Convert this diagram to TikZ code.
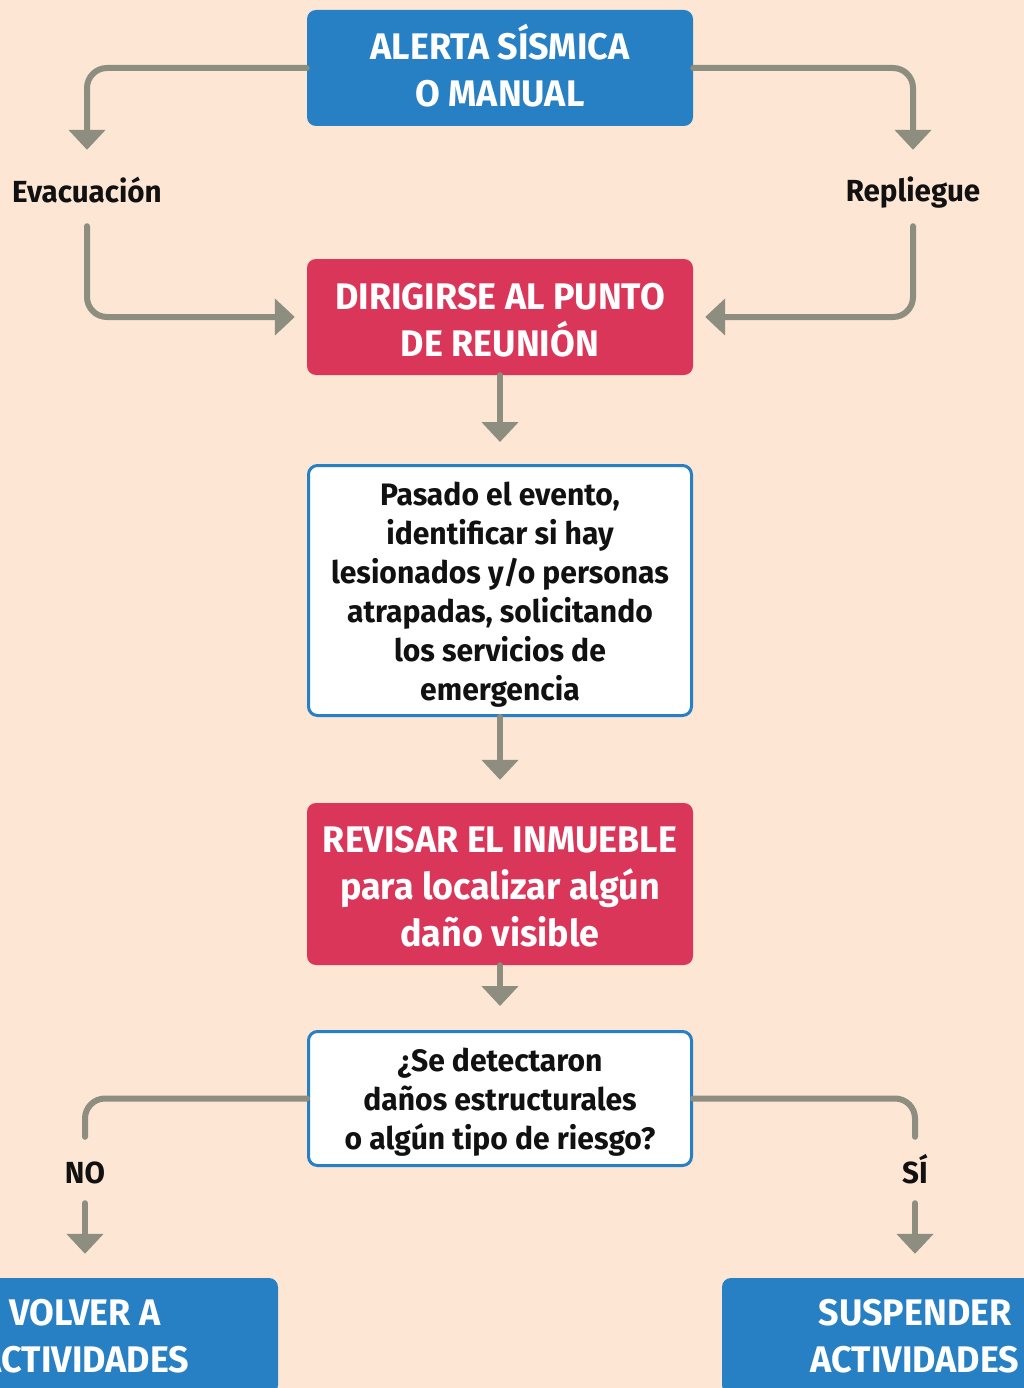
\documentclass[tikz,border=0pt]{standalone}
\usepackage{fontspec}
\usetikzlibrary{arrows.meta}
\newfontfamily\ffsans{Fira Sans}[FakeStretch=0.97]
\definecolor{bgpeach}{HTML}{FDE6D4}
\definecolor{boxblue}{HTML}{2780C3}
\definecolor{boxred}{HTML}{DA365A}
\definecolor{conngray}{HTML}{8D8D80}
\definecolor{txtblack}{HTML}{111111}
% strut that raises the top of a first line by #1 above the letter 'l'
\newcommand{\topextra}[1]{\rule{0pt}{\dimexpr\fontcharht\font`\l+#1\relax}}
\newcommand{\botextra}[1]{\rule[-#1]{0pt}{0pt}}
\tikzset{
  basebox/.style={rounded corners=9pt, minimum width=386pt, align=center, inner sep=0pt},
  bluebox/.style={basebox, fill=boxblue, text=white, font=\ffsans\bfseries\fontsize{37}{47}\selectfont},
  redbox/.style={basebox, fill=boxred, text=white, font=\ffsans\bfseries\fontsize{37}{47}\selectfont},
  whitebox/.style={basebox, minimum width=383pt, fill=white, draw=boxblue, line width=3pt, text=txtblack, font=\ffsans\bfseries\fontsize{31}{39}\selectfont},
  lbl/.style={inner sep=0pt, text=txtblack, font=\ffsans\bfseries\fontsize{30.5}{34}\selectfont},
  conn/.style={draw=conngray, line width=6pt, line cap=round, rounded corners=20pt},
  arr/.style={conn, -{Triangle[width=36pt,length=20pt]}},
}
\begin{document}
\begin{tikzpicture}[x=1pt,y=-1pt]
\fill[bgpeach] (0,0) rectangle (1024,1388);
\useasboundingbox (0,0) rectangle (1024,1388);

\node[bluebox, minimum height=116pt] (A) at (500,68) {ALERTA SÍSMICA\\O MANUAL\botextra{6pt}};
\node[redbox, minimum height=116pt] (B) at (500,317) {\topextra{4pt}DIRIGIRSE AL PUNTO\\DE REUNIÓN};
\node[whitebox, minimum height=250pt] (C) at (500,590.5) {\topextra{8pt}Pasado el evento,\\identificar si hay\\lesionados y/o personas\\atrapadas, solicitando\\los servicios de\\emergencia};
\node[redbox, minimum height=162pt] (D) at (500,884) {\topextra{4pt}REVISAR EL INMUEBLE\\para localizar algún\\daño visible};
\node[whitebox, minimum height=134pt] (E) at (500,1098.5) {\topextra{8pt}¿Se detectaron\\daños estructurales\\o algún tipo de riesgo?};
\node[bluebox, minimum height=116pt] (F) at (85,1336) {VOLVER A\\ACTIVIDADES};
\node[bluebox, minimum height=116pt] (G) at (915,1336) {SUSPENDER\\ACTIVIDADES};

\node[lbl, text height=30pt, text depth=1pt, minimum height=76pt] (evac) at (87,188) {Evacuación};
\node[lbl, text height=30pt, text depth=2pt, minimum height=76pt] (repl) at (913,188) {Repliegue};
\node[lbl, text height=30pt, text depth=3pt, minimum height=66pt] (no) at (85,1170) {NO};
\node[lbl, text height=30pt, text depth=3pt, minimum height=66pt] (si) at (915,1170) {SÍ};

\draw[arr] (A.west) -| (evac.north);
\draw[arr] (A.east) -| (repl.north);
\draw[arr, shorten >=12pt] (evac.south) |- (B.west);
\draw[arr, shorten >=12pt] (repl.south) |- (B.east);
\draw[arr, shorten >=22pt] (B.south) -- (C.north);
\draw[arr, shorten >=23pt] (C.south) -- (D.north);
\draw[arr, shorten >=24pt] (D.south) -- (E.north);
\draw[conn] (E.west) -| (no.north);
\draw[conn] (E.east) -| (si.north);
\draw[arr, shorten >=24pt] (no.south) -- (F.north);
\draw[arr, shorten >=24pt] (si.south) -- (G.north);
\end{tikzpicture}
\end{document}
